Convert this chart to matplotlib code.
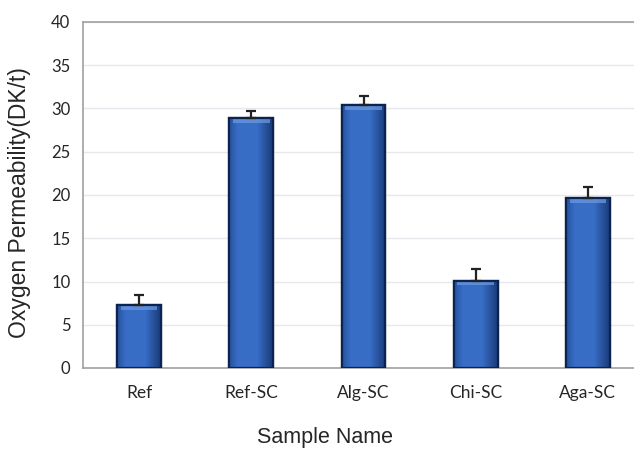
import matplotlib
matplotlib.use("Agg")
import matplotlib.pyplot as plt
import numpy as np

categories = ["Ref", "Ref-SC", "Alg-SC", "Chi-SC", "Aga-SC"]
values = [7.3, 28.9, 30.4, 10.1, 19.6]
errors = [1.1, 0.8, 1.1, 1.3, 1.3]
yticks = [0, 5, 10, 15, 20, 25, 30, 35, 40]

W, H = 634, 451
fig = plt.figure(figsize=(W / 100, H / 100), dpi=100)
left, right, top, bottom = 83, 644, 22, 368
ax = fig.add_axes([left / W, 1 - bottom / H, (right - left) / W, (bottom - top) / H])

x = np.arange(len(categories))
bars = ax.bar(x, values, width=0.39, color="#3a6cc0", edgecolor="#0b2350",
              linewidth=1.6, zorder=3)

# gradient shading inside each bar
grad = np.linspace(0, 1, 256)
prof = 1 - np.abs(grad - 0.42) * 1.3
img = np.zeros((2, 256, 4))
base = np.array([0.22, 0.43, 0.78])
dark = np.array([0.04, 0.12, 0.30])
for i, p in enumerate(prof):
    c = dark + (base - dark) * np.clip(p * 1.4, 0, 1)
    img[:, i, :3] = c
    img[:, i, 3] = 1
for b in bars:
    bx, by, bw, bh = b.get_x(), b.get_y(), b.get_width(), b.get_height()
    im = ax.imshow(img, extent=[bx, bx + bw, by, by + bh], aspect="auto",
                   zorder=3.1, interpolation="bilinear")
    im.set_clip_path(b)
    # top highlight
    ax.fill_between([bx + bw * 0.08, bx + bw * 0.92], by + bh - 0.55, by + bh - 0.12,
                    color="#6f9be0", alpha=0.7, zorder=3.2, linewidth=0)
    ax.bar(bx + bw / 2, bh, width=bw, bottom=by, facecolor="none",
           edgecolor="#0b2350", linewidth=1.6, zorder=3.3)

ax.errorbar(x, values, yerr=[np.zeros(len(errors)), errors], fmt="none",
            ecolor="#222222", elinewidth=1.6, capsize=3.5, capthick=1.6, zorder=4)

ax.set_xlim(-0.5, len(categories) - 0.5)
ax.set_ylim(0, 40)
ax.set_yticks(yticks)
ax.set_yticklabels([str(t) for t in yticks], fontsize=12, family="Lato",
                   color="#262626")
ax.set_xticks(x)
ax.set_xticklabels(categories, fontsize=12.5, family="Lato", color="#262626")
ax.tick_params(axis="both", length=0)
ax.tick_params(axis="y", pad=9)
ax.tick_params(axis="x", pad=12)
ax.grid(axis="y", color="#e6e8ee", linewidth=1.0, zorder=0)
for s in ax.spines.values():
    s.set_color("#a0a0a0")
    s.set_linewidth(1.2)
ax.spines["right"].set_visible(False)

fig.text(20 / W, 1 - 203 / H, "Oxygen Permeability(DK/t)", rotation=90,
         ha="center", va="center", fontsize=16.5, family="Liberation Sans",
         color="#262626")
fig.text(325 / W, 1 - 438 / H, "Sample Name", ha="center", va="center",
         fontsize=15.5, family="Liberation Sans", color="#262626")

fig.savefig("out.png", dpi=100)
